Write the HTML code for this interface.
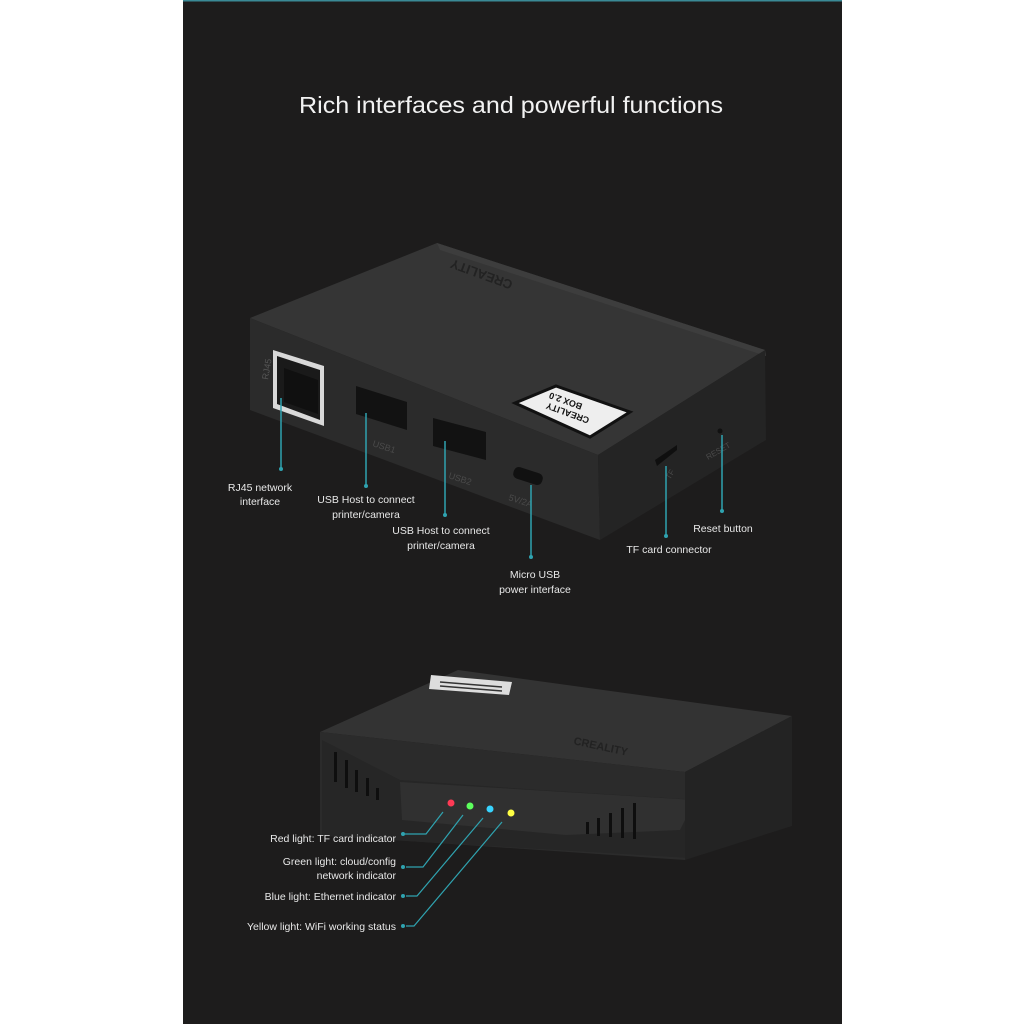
<!DOCTYPE html>
<html><head><meta charset="utf-8"><style>
html,body{margin:0;padding:0;background:#fff;}
svg{display:block}
text{font-family:"Liberation Sans",sans-serif;}
</style></head><body>
<svg width="1024" height="1024" viewBox="0 0 1024 1024" xmlns="http://www.w3.org/2000/svg">
<rect x="183" y="0" width="659" height="1024" fill="#1d1c1c"/>
<rect x="183" y="0" width="659" height="1.5" fill="#3a8a96"/>
<text x="511" y="113" fill="#f2f2f2" font-size="23" text-anchor="middle" textLength="424" lengthAdjust="spacingAndGlyphs" font-weight="normal" style="font-weight:300">Rich interfaces and powerful functions</text>

<!-- Box 1 -->
<polygon points="250,318 437,243 765,350 598,455" fill="#353535"/>
<polygon points="437,243 765,350 766,356 440,250" fill="#3d3d3d"/>
<polygon points="250,318 598,455 600,540 258,413 250,410" fill="#2b2b2b"/>
<polygon points="598,455 765,350 766,440 600,540" fill="#242424"/>
<!-- RJ45 -->
<polygon points="273,350 324,366 324,426 273,408" fill="#d9d9d9"/>
<polygon points="277,356 320,370 320,420 277,404" fill="#1a1a1a"/>
<polygon points="284,368 318,380 318,414 284,402" fill="#101010"/>
<text x="268" y="380" fill="#555" font-size="9" transform="rotate(-80 268 380)">RJ45</text>
<!-- USB1 -->
<polygon points="356,386 407,402 407,430 356,414" fill="#121212"/>
<text x="372" y="446" fill="#4a4a4a" font-size="9" transform="rotate(18 372 446)">USB1</text>
<!-- USB2 -->
<polygon points="433,418 486,432 486,460 433,446" fill="#121212"/>
<text x="448" y="478" fill="#4a4a4a" font-size="9" transform="rotate(18 448 478)">USB2</text>
<!-- micro usb -->
<rect x="513" y="470" width="30" height="12" rx="5" fill="#111" transform="rotate(18 528 476)"/>
<text x="508" y="500" fill="#4a4a4a" font-size="9" transform="rotate(18 508 500)">5V/2A</text>
<!-- label -->
<polygon points="515,403 556,386 630,412 590,437" fill="#eee"/>
<polygon points="515,403 556,386 630,412 590,437" fill="none" stroke="#111" stroke-width="3"/>
<text x="568" y="414" fill="#111" font-size="9" font-weight="bold" text-anchor="middle" transform="rotate(200 568 412)">CREALITY</text>
<text x="566" y="402" fill="#111" font-size="9" font-weight="bold" text-anchor="middle" transform="rotate(200 566 400)">BOX 2.0</text>
<text x="483" y="270" fill="#222" font-size="13" font-weight="bold" transform="rotate(200 483 270)" text-anchor="middle">CREALITY</text>
<!-- TF -->
<polygon points="655,460 677,445 677,450 657,466" fill="#0f0f0f"/>
<text x="670" y="480" fill="#4a4a4a" font-size="8" transform="rotate(-60 670 480)">TF</text>
<circle cx="720" cy="431" r="2.5" fill="#111"/>
<text x="708" y="460" fill="#4a4a4a" font-size="8" transform="rotate(-30 708 460)">RESET</text>
<!-- leader lines -->
<g stroke="#2fa3b0" stroke-width="1.5" fill="#2fa3b0">
<line x1="281" y1="398" x2="281" y2="469"/><circle cx="281" cy="469" r="2" stroke="none"/>
<line x1="366" y1="413" x2="366" y2="486"/><circle cx="366" cy="486" r="2" stroke="none"/>
<line x1="445" y1="441" x2="445" y2="515"/><circle cx="445" cy="515" r="2" stroke="none"/>
<line x1="531" y1="485" x2="531" y2="557"/><circle cx="531" cy="557" r="2" stroke="none"/>
<line x1="666" y1="466" x2="666" y2="536"/><circle cx="666" cy="536" r="2" stroke="none"/>
<line x1="722" y1="435" x2="722" y2="511"/><circle cx="722" cy="511" r="2" stroke="none"/>
</g>
<g fill="#e8e8e8" font-size="10.5" text-anchor="middle">
<text x="260" y="491">RJ45 network</text><text x="260" y="505">interface</text>
<text x="366" y="503">USB Host to connect</text><text x="366" y="518">printer/camera</text>
<text x="441" y="534">USB Host to connect</text><text x="441" y="549">printer/camera</text>
<text x="535" y="578">Micro USB</text><text x="535" y="593">power interface</text>
<text x="669" y="553">TF card connector</text>
<text x="723" y="532">Reset button</text>
</g>

<!-- Box 2 -->
<polygon points="320,732 458,670 792,716 685,772" fill="#333"/>
<polygon points="320,732 685,772 685,860 320,835" fill="#2b2b2b"/>
<polygon points="322,740 400,780 540,790 700,800 690,858 322,836" fill="#262626"/>
<polygon points="400,782 695,800 680,830 566,835 402,820" fill="#303030"/>
<polygon points="685,772 792,716 792,826 685,860" fill="#232323"/>
<polygon points="431,675 512,682 509,695 429,689" fill="#ddd"/>
<g stroke="#333" stroke-width="1.5"><line x1="440" y1="682" x2="502" y2="687"/><line x1="440" y1="686" x2="502" y2="691"/></g>
<text x="600" y="750" fill="#222" font-size="11" font-weight="bold" transform="rotate(12 600 750)" text-anchor="middle">CREALITY</text>
<g fill="#0e0e0e">
<rect x="334" y="752" width="3" height="30"/><rect x="345" y="760" width="3" height="28"/><rect x="355" y="770" width="3" height="22"/><rect x="366" y="778" width="3" height="18"/><rect x="376" y="788" width="3" height="12"/>
<rect x="586" y="822" width="3" height="12"/><rect x="597" y="818" width="3" height="18"/><rect x="609" y="813" width="3" height="24"/><rect x="621" y="808" width="3" height="30"/><rect x="633" y="803" width="3" height="36"/>
</g>
<circle cx="451" cy="803" r="3.5" fill="#ff3a55"/>
<circle cx="470" cy="806" r="3.5" fill="#5dff5d"/>
<circle cx="490" cy="809" r="3.5" fill="#38d4ff"/>
<circle cx="511" cy="813" r="3.5" fill="#ffff44"/>
<g stroke="#2fa3b0" stroke-width="1.2" fill="none">
<polyline points="443,812 426,834 405,834"/>
<polyline points="463,815 423,867 406,867"/>
<polyline points="483,818 417,896 406,896"/>
<polyline points="502,822 414,926 406,926"/>
</g>
<g fill="#2fa3b0"><circle cx="403" cy="834" r="2"/><circle cx="403" cy="867" r="2"/><circle cx="403" cy="896" r="2"/><circle cx="403" cy="926" r="2"/></g>
<g fill="#e8e8e8" font-size="10.5" text-anchor="end">
<text x="396" y="842">Red light: TF card indicator</text>
<text x="396" y="865">Green light: cloud/config</text>
<text x="396" y="879">network indicator</text>
<text x="396" y="900">Blue light: Ethernet indicator</text>
<text x="396" y="930">Yellow light: WiFi working status</text>
</g>
</svg>
</body></html>
